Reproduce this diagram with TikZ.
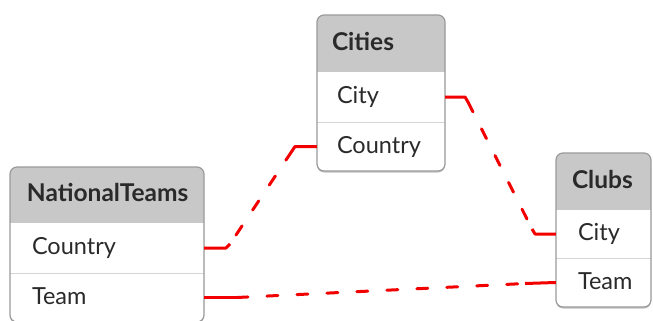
\documentclass[tikz,border=0pt]{standalone}
\usepackage{fontspec}
\setmainfont{Lato}
\usetikzlibrary{shadows}
\definecolor{hdr}{HTML}{C8C8C8}
\definecolor{boxline}{HTML}{9A9A9A}
\definecolor{divline}{HTML}{D4D4D4}
\definecolor{txt}{HTML}{2A2A2A}
\definecolor{linkred}{HTML}{F20000}
\begin{document}
\begin{tikzpicture}[x=1pt,y=-1pt,
  tablebox/.style={fill=white, rounded corners=7pt,
    drop shadow={shadow xshift=0pt, shadow yshift=-1.5pt, opacity=0.35, fill=black!70}},
  tableborder/.style={draw=boxline, line width=1.2pt, rounded corners=7pt},
  divider/.style={draw=divline, line width=1pt},
  rowarea/.style={draw=none, inner sep=0pt},
  titletext/.style={anchor=mid west, inner sep=0pt, text=txt, yshift=-4pt, font=\fontsize{24.5}{28}\selectfont\bfseries},
  rowtext/.style={anchor=mid west, inner sep=0pt, text=txt, yshift=-4pt, font=\fontsize{23.5}{28}\selectfont},
  link/.style={draw=linkred, line width=3pt, line join=round},
  dashlink/.style={link, dash pattern=on 11pt off 19pt, line cap=round}
]
\useasboundingbox (0,0) rectangle (653,321);

% ---------- Cities ----------
\path[tablebox] (317,15) rectangle (445,171);
\begin{scope}
  \clip[rounded corners=7pt] (317,15) rectangle (445,171);
  \fill[hdr] (317,15) rectangle (445,72);
  \draw[divider] (317,122) -- (445,122);
\end{scope}
\draw[tableborder] (317,15) rectangle (445,171);
\node[rowarea, minimum width=128pt, minimum height=57pt] (citiesHead) at (381,43.5) {};
\node[rowarea, minimum width=128pt, minimum height=50pt] (citiesCity) at (381,97) {};
\node[rowarea, minimum width=128pt, minimum height=49pt] (citiesCountry) at (381,146.5) {};
\node[titletext] (citiesT) at ([xshift=15pt]citiesHead.west) {Cities};
\node[rowtext] (citiesCityT) at ([xshift=20pt]citiesCity.west) {City};
\node[rowtext] (citiesCountryT) at ([xshift=20pt]citiesCountry.west) {Country};

% ---------- NationalTeams ----------
\path[tablebox] (10,167) rectangle (204,322);
\begin{scope}
  \clip[rounded corners=7pt] (10,167) rectangle (204,322);
  \fill[hdr] (10,167) rectangle (204,223);
  \draw[divider] (10,273) -- (204,273);
\end{scope}
\draw[tableborder] (10,167) rectangle (204,322);
\node[rowarea, minimum width=194pt, minimum height=56pt] (ntHead) at (107,195) {};
\node[rowarea, minimum width=194pt, minimum height=50pt] (ntCountry) at (107,248) {};
\node[rowarea, minimum width=194pt, minimum height=49pt] (ntTeam) at (107,297.5) {};
\node[titletext] (ntT) at ([xshift=17pt]ntHead.west) {NationalTeams};
\node[rowtext] (ntCountryT) at ([xshift=22pt]ntCountry.west) {Country};
\node[rowtext] (ntTeamT) at ([xshift=22pt]ntTeam.west) {Team};

% ---------- Clubs ----------
\path[tablebox] (556,153) rectangle (651,307);
\begin{scope}
  \clip[rounded corners=7pt] (556,153) rectangle (651,307);
  \fill[hdr] (556,153) rectangle (651,210);
  \draw[divider] (556,258) -- (651,258);
\end{scope}
\draw[tableborder] (556,153) rectangle (651,307);
\node[rowarea, minimum width=95pt, minimum height=57pt] (clubsHead) at (603.5,181.5) {};
\node[rowarea, minimum width=95pt, minimum height=48pt] (clubsCity) at (603.5,234) {};
\node[rowarea, minimum width=95pt, minimum height=49pt] (clubsTeam) at (603.5,282.5) {};
\node[titletext] (clubsT) at ([xshift=16pt]clubsHead.west) {Clubs};
\node[rowtext] (clubsCityT) at ([xshift=22pt]clubsCity.west) {City};
\node[rowtext] (clubsTeamT) at ([xshift=22pt]clubsTeam.west) {Team};

% ---------- connectors ----------
% Cities.Country -- NationalTeams.Country
\coordinate (a1) at (292,151);
\coordinate (a2) at (230,244);
\draw[link] (citiesCountry.west) -- (295,146.5) -- (a1);
\draw[dashlink] (a1) -- (a2);
\draw[link] (a2) -- (226,248) -- (ntCountry.east);

% Cities.City -- Clubs.City
\coordinate (b1) at (468,102);
\coordinate (b2) at (532,229);
\draw[link] (citiesCity.east) -- (465,97) -- (b1);
\draw[dashlink] (b1) -- (b2);
\draw[link] (b2) -- (535,234) -- (clubsCity.west);

% NationalTeams.Team -- Clubs.Team
\coordinate (c1) at (237,297.5);
\coordinate (c2) at (525,283.5);
\draw[link] (ntTeam.east) -- (c1);
\draw[dashlink] (c1) -- (c2);
\draw[link] (c2) -- (clubsTeam.west);
\end{tikzpicture}
\end{document}
